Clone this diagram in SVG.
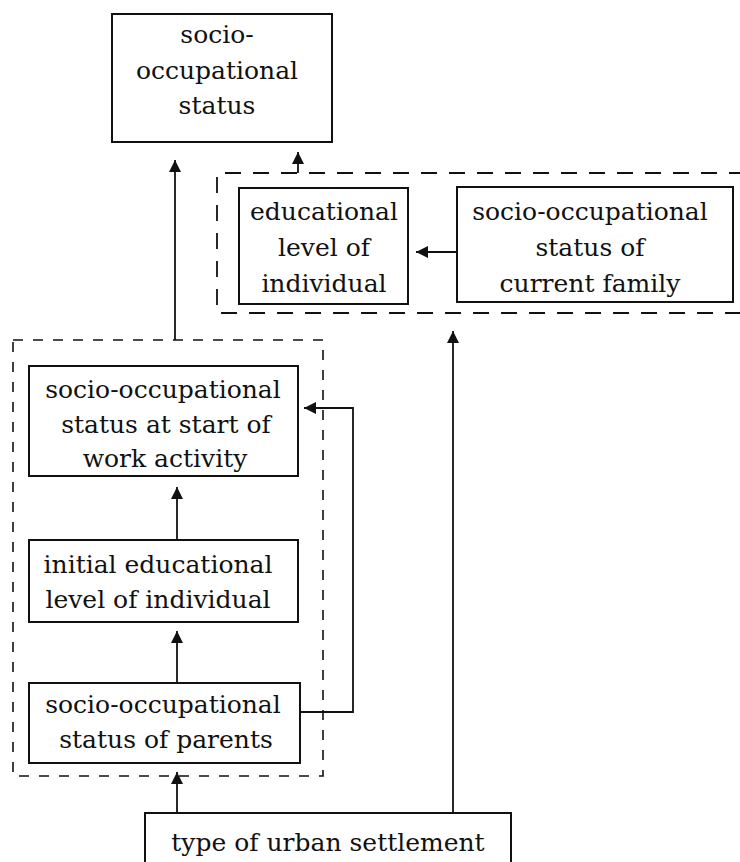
<svg xmlns="http://www.w3.org/2000/svg" width="740" height="862" viewBox="0 0 740 862">
<style>
.box{fill:#fff;stroke:#111;stroke-width:2}
.grp{fill:none;stroke:#111;stroke-width:1.8;stroke-dasharray:16 12}
.grp2{fill:none;stroke:#111;stroke-width:1.6;stroke-dasharray:10 10}
.ln{fill:none;stroke:#111;stroke-width:1.8}
text{font-family:"DejaVu Serif","Liberation Serif",serif;font-size:25px;fill:#111;text-anchor:middle}
</style>
<defs>
<marker id="ah" markerUnits="userSpaceOnUse" markerWidth="12" markerHeight="12" viewBox="0 0 12 12" refX="12" refY="6" orient="auto">
<path d="M0,0 L12,6 L0,12 z" fill="#111"/>
</marker>
</defs>
<rect width="740" height="862" fill="#fff"/>
<g id="group-current">
<path class="grp" d="M745,173 H217 V313 H745"/>
</g>
<g id="group-initial">
<rect class="grp2" x="13" y="340" width="310" height="436"/>
</g>
<g id="n-status">
<rect class="box" x="112" y="14" width="220" height="128"/>
<text x="217" y="43">socio-</text>
<text x="217" y="79">occupational</text>
<text x="217" y="114">status</text>
</g>
<g id="n-edu">
<rect class="box" x="239" y="188" width="169" height="116"/>
<text x="324" y="220">educational</text>
<text x="324" y="256">level of</text>
<text x="324" y="292">individual</text>
</g>
<g id="n-family">
<rect class="box" x="457" y="187" width="276" height="115"/>
<text x="590" y="220">socio-occupational</text>
<text x="590" y="256">status of</text>
<text x="590" y="292">current family</text>
</g>
<g id="n-start">
<rect class="box" x="29" y="366" width="269" height="110"/>
<text x="163" y="398">socio-occupational</text>
<text x="166" y="433">status at start of</text>
<text x="165" y="467">work activity</text>
</g>
<g id="n-initedu">
<rect class="box" x="29" y="540" width="269" height="82"/>
<text x="158" y="573">initial educational</text>
<text x="158" y="608">level of individual</text>
</g>
<g id="n-parents">
<rect class="box" x="29" y="683" width="271" height="80"/>
<text x="163" y="713">socio-occupational</text>
<text x="166" y="748">status of parents</text>
</g>
<g id="n-urban">
<rect class="box" x="145" y="813" width="366" height="60"/>
<text x="328" y="851">type of urban settlement</text>
</g>
<g id="connectors">
<line class="ln" x1="175" y1="340" x2="175" y2="160" marker-end="url(#ah)"/>
<line class="ln" x1="298" y1="173" x2="298" y2="152" marker-end="url(#ah)"/>
<line class="ln" x1="457" y1="252" x2="416" y2="252" marker-end="url(#ah)"/>
<line class="ln" x1="177" y1="540" x2="177" y2="487" marker-end="url(#ah)"/>
<line class="ln" x1="177" y1="683" x2="177" y2="631" marker-end="url(#ah)"/>
<path class="ln" d="M300,712 H353 V408 H304" marker-end="url(#ah)"/>
<line class="ln" x1="177" y1="813" x2="177" y2="772" marker-end="url(#ah)"/>
<line class="ln" x1="453" y1="813" x2="453" y2="331" marker-end="url(#ah)"/>
</g>
</svg>
